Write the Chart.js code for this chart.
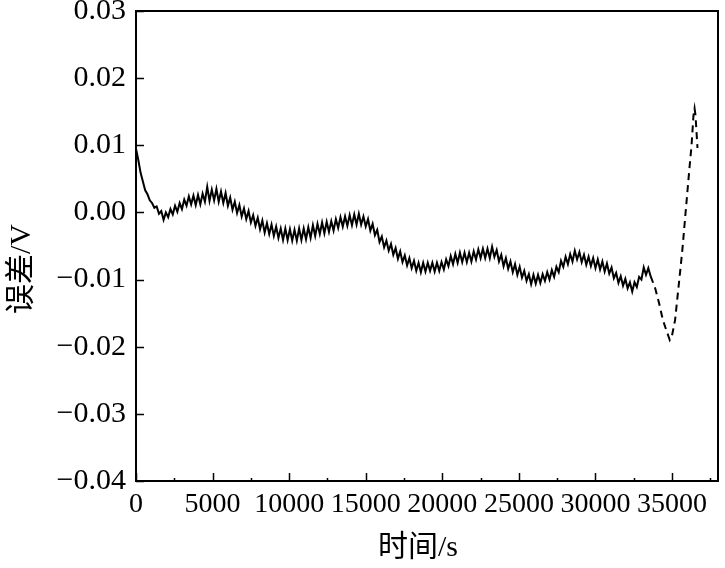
<!DOCTYPE html>
<html>
<head>
<meta charset="utf-8">
<script src="https://cdn.jsdelivr.net/npm/chart.js@4"></script>
<style>
  html, body { margin: 0; padding: 0; background: #fff; }
  #wrap { width: 725px; height: 568px; }
</style>
</head>
<body>
<div id="wrap"><canvas id="chart" width="725" height="568"></canvas></div>
<script>
// time in s
const times = [
    0, 150, 300, 450, 600, 750, 900, 1050, 1200, 1350,
    1500, 1650, 1800, 1950, 2100, 2250, 2400, 2550, 2700, 2850,
    3000, 3150, 3300, 3450, 3600, 3750, 3900, 4050, 4200, 4350,
    4500, 4650, 4800, 4950, 5100, 5250, 5400, 5550, 5700, 5850,
    6000, 6150, 6300, 6450, 6600, 6750, 6900, 7050, 7200, 7350,
    7500, 7650, 7800, 7950, 8100, 8250, 8400, 8550, 8700, 8850,
    9000, 9150, 9300, 9450, 9600, 9750, 9900, 10050, 10200, 10350,
    10500, 10650, 10800, 10950, 11100, 11250, 11400, 11550, 11700, 11850,
    12000, 12150, 12300, 12450, 12600, 12750, 12900, 13050, 13200, 13350,
    13500, 13650, 13800, 13950, 14100, 14250, 14400, 14550, 14700, 14850,
    15000, 15150, 15300, 15450, 15600, 15750, 15900, 16050, 16200, 16350,
    16500, 16650, 16800, 16950, 17100, 17250, 17400, 17550, 17700, 17850,
    18000, 18150, 18300, 18450, 18600, 18750, 18900, 19050, 19200, 19350,
    19500, 19650, 19800, 19950, 20100, 20250, 20400, 20550, 20700, 20850,
    21000, 21150, 21300, 21450, 21600, 21750, 21900, 22050, 22200, 22350,
    22500, 22650, 22800, 22950, 23100, 23250, 23400, 23550, 23700, 23850,
    24000, 24150, 24300, 24450, 24600, 24750, 24900, 25050, 25200, 25350,
    25500, 25650, 25800, 25950, 26100, 26250, 26400, 26550, 26700, 26850,
    27000, 27150, 27300, 27450, 27600, 27750, 27900, 28050, 28200, 28350,
    28500, 28650, 28800, 28950, 29100, 29250, 29400, 29550, 29700, 29850,
    30000, 30150, 30300, 30450, 30600, 30750, 30900, 31050, 31200, 31350,
    31500, 31650, 31800, 31950, 32100, 32250, 32400, 32550, 32700, 32850,
    33000, 33150, 33300, 33450, 33600,
    33900, 34150, 34400, 34650, 34850, 35000, 35200, 35350, 35520, 35680,
    35880, 36010, 36140, 36270, 36400, 36470, 36530, 36660
];

// error in V
const errors = [
    0.0095, 0.0078, 0.0059, 0.0046, 0.0033, 0.0027, 0.0018, 0.0014, 0.0007, 0.0009,
    -0.0002, 0.0002, -0.0011, 0.0000, -0.0007, 0.0005, -0.0003, 0.0010, 0.0001, 0.0014,
    0.0005, 0.0019, 0.0010, 0.0024, 0.0012, 0.0025, 0.0011, 0.0026, 0.0012, 0.0028,
    0.0016, 0.0038, 0.0017, 0.0034, 0.0018, 0.0035, 0.0016, 0.0031, 0.0014, 0.0029,
    0.0010, 0.0022, 0.0004, 0.0016, -0.0001, 0.0011, -0.0006, 0.0006, -0.0010, 0.0002,
    -0.0015, -0.0004, -0.0020, -0.0008, -0.0025, -0.0012, -0.0030, -0.0016, -0.0032, -0.0018,
    -0.0035, -0.0021, -0.0038, -0.0024, -0.0041, -0.0024, -0.0041, -0.0025, -0.0042, -0.0026,
    -0.0042, -0.0024, -0.0041, -0.0024, -0.0040, -0.0022, -0.0038, -0.0019, -0.0035, -0.0017,
    -0.0032, -0.0015, -0.0031, -0.0014, -0.0029, -0.0013, -0.0027, -0.0010, -0.0023, -0.0007,
    -0.0021, -0.0006, -0.0020, -0.0004, -0.0019, -0.0003, -0.0018, -0.0002, -0.0018, -0.0006,
    -0.0021, -0.0010, -0.0027, -0.0017, -0.0034, -0.0026, -0.0044, -0.0036, -0.0052, -0.0042,
    -0.0057, -0.0047, -0.0063, -0.0053, -0.0069, -0.0058, -0.0074, -0.0064, -0.0079, -0.0068,
    -0.0083, -0.0072, -0.0087, -0.0075, -0.0089, -0.0075, -0.0088, -0.0075, -0.0087, -0.0075,
    -0.0088, -0.0075, -0.0087, -0.0074, -0.0085, -0.0070, -0.0080, -0.0065, -0.0077, -0.0062,
    -0.0075, -0.0060, -0.0074, -0.0060, -0.0074, -0.0060, -0.0073, -0.0058, -0.0070, -0.0055,
    -0.0068, -0.0054, -0.0068, -0.0054, -0.0068, -0.0051, -0.0066, -0.0056, -0.0073, -0.0063,
    -0.0080, -0.0068, -0.0084, -0.0073, -0.0089, -0.0077, -0.0093, -0.0081, -0.0097, -0.0087,
    -0.0102, -0.0092, -0.0107, -0.0093, -0.0106, -0.0093, -0.0105, -0.0092, -0.0102, -0.0089,
    -0.0100, -0.0086, -0.0096, -0.0081, -0.0089, -0.0072, -0.0081, -0.0066, -0.0077, -0.0062,
    -0.0073, -0.0057, -0.0070, -0.0059, -0.0074, -0.0063, -0.0078, -0.0066, -0.0080, -0.0068,
    -0.0083, -0.0070, -0.0085, -0.0073, -0.0088, -0.0076, -0.0091, -0.0082, -0.0098, -0.0090,
    -0.0105, -0.0095, -0.0109, -0.0099, -0.0113, -0.0104, -0.0118, -0.0104, -0.0111, -0.0096,
    -0.0100, -0.0082, -0.0093, -0.0083, -0.0095,
    -0.0113, -0.0135, -0.0160, -0.0177, -0.0190, -0.0183, -0.0160, -0.0127, -0.0090, -0.0054,
    -0.0001, 0.0033, 0.0067, 0.0099, 0.0145, 0.0155, 0.0145, 0.0096
];

const xTicks = [0, 5000, 10000, 15000, 20000, 25000, 30000, 35000];
const yTicks = [-0.04, -0.03, -0.02, -0.01, 0.00, 0.01, 0.02, 0.03];
const xTitle = '时间/s';
const yTitle = '误差/V';
const dashFrom = 33600;

const serif = '"Liberation Serif", "Times New Roman", serif';
const titleFont = '"Liberation Serif", "Noto Sans CJK SC", serif';

function fmt(v) {
    const s = Math.abs(v).toFixed(2);
    return (v < -1e-9 ? '\u2212' : '') + s;
}

// frame, inward ticks and axis titles
const framePlugin = {
    id: 'frame',
    afterDraw(chart) {
        const ctx = chart.ctx;
        const a = chart.chartArea;
        const xs = chart.scales.x, ys = chart.scales.y;
        ctx.save();
        ctx.strokeStyle = '#000';
        ctx.lineWidth = 2;
        ctx.strokeRect(a.left, a.top, a.right - a.left, a.bottom - a.top);
        ctx.lineWidth = 1.5;
        ctx.beginPath();
        xTicks.forEach(t => {
            const px = Math.round(xs.getPixelForValue(t)) + 0.5;
            ctx.moveTo(px, a.bottom);
            ctx.lineTo(px, a.bottom - 8);
            const pm = Math.round(xs.getPixelForValue(t + 2500)) + 0.5;
            if (pm < a.right - 4) {
                ctx.moveTo(pm, a.bottom);
                ctx.lineTo(pm, a.bottom - 3);
            }
        });
        yTicks.forEach(t => {
            const py = Math.round(ys.getPixelForValue(t)) + 0.5;
            ctx.moveTo(a.left, py);
            ctx.lineTo(a.left + 8, py);
        });
        ctx.stroke();

        ctx.fillStyle = '#000';
        ctx.font = '30px ' + titleFont;
        ctx.textAlign = 'center';
        ctx.textBaseline = 'middle';
        ctx.fillText(xTitle, 418, 548);
        ctx.translate(22, 269);
        ctx.rotate(-Math.PI / 2);
        ctx.fillText(yTitle, 0, 0);
        ctx.restore();
    }
};

new Chart(document.getElementById('chart'), {
    type: 'line',
    data: {
        datasets: [{
            data: times.map((t, i) => ({ x: t, y: errors[i] })),
            borderColor: '#000',
            borderWidth: 2,
            pointRadius: 0,
            tension: 0,
            fill: false,
            segment: {
                borderDash: c => c.p0.parsed.x >= dashFrom ? [7, 5] : undefined
            }
        }]
    },
    options: {
        responsive: false,
        animation: false,
        layout: { padding: { top: 11, right: 7, left: 0, bottom: 0 } },
        plugins: {
            legend: { display: false },
            tooltip: { enabled: false }
        },
        scales: {
            x: {
                type: 'linear',
                min: 0,
                max: 38000,
                grid: { display: false, drawTicks: false },
                border: { display: false },
                afterBuildTicks: s => { s.ticks = xTicks.map(v => ({ value: v })); },
                afterFit: s => { s.height = 87; s.paddingLeft = 0; s.paddingRight = 0; },
                ticks: {
                    autoSkip: false,
                    maxRotation: 0,
                    padding: 7,
                    color: '#000',
                    font: { family: serif, size: 28 },
                    callback: v => String(v)
                }
            },
            y: {
                min: -0.04,
                max: 0.03,
                grid: { display: false, drawTicks: false },
                border: { display: false },
                afterBuildTicks: s => { s.ticks = yTicks.map(v => ({ value: v })); },
                afterFit: s => { s.width = 136; s.paddingTop = 0; s.paddingBottom = 0; },
                ticks: {
                    autoSkip: false,
                    padding: 10,
                    color: '#000',
                    font: { family: serif, size: 30 },
                    callback: v => fmt(v)
                }
            }
        }
    },
    plugins: [framePlugin]
});
</script>
</body>
</html>
